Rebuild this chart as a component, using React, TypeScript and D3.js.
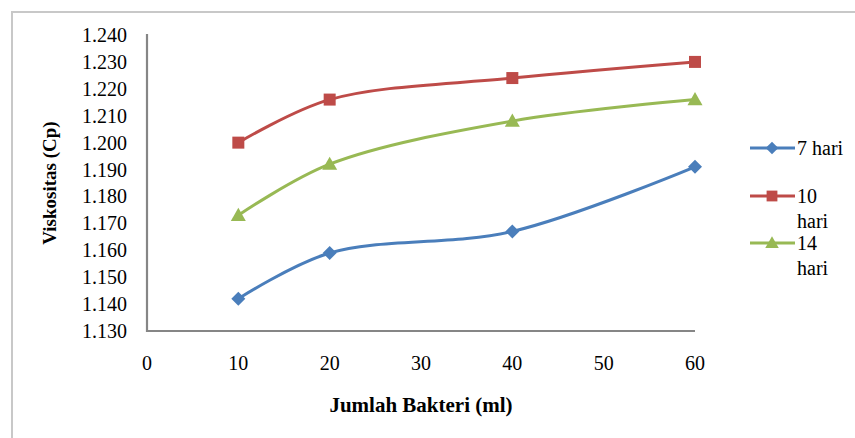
import React from "react";
import * as d3 from "d3";

// Bacteria volume (ml) on the x axis
const volumes = [10, 20, 40, 60];
// Viscosity (Cp) per fermentation time
const hari7 = [1.142, 1.159, 1.167, 1.191];
const hari10 = [1.2, 1.216, 1.224, 1.23];
const hari14 = [1.173, 1.192, 1.208, 1.216];

const xTicks = [0, 10, 20, 30, 40, 50, 60];
const yTicks = [1.13, 1.14, 1.15, 1.16, 1.17, 1.18, 1.19, 1.2, 1.21, 1.22, 1.23, 1.24];

const seriesNames = ["7 hari", "10 hari", "14 hari"];

const W = 855;
const H = 438;
const FONT = "'Liberation Serif', 'Times New Roman', serif";

export default function App() {
  const x = d3.scaleLinear().domain([0, 60]).range([147, 695]);
  const y = d3.scaleLinear().domain([1.13, 1.24]).range([331, 35]);

  const series = [
    { name: seriesNames[0], values: hari7, color: "#4A7EBB", marker: "diamond" },
    { name: seriesNames[1], values: hari10, color: "#BE4B48", marker: "square" },
    { name: seriesNames[2], values: hari14, color: "#98B954", marker: "triangle" },
  ];

  const line = d3
    .line<[number, number]>()
    .x((d) => x(d[0]))
    .y((d) => y(d[1]))
    .curve(d3.curveCatmullRom.alpha(0.5));

  const marker = (kind: string, cx: number, cy: number, color: string, key: string, k = 1) => {
    if (kind === "diamond") {
      const r = 7 * k;
      return (
        <path
          key={key}
          d={`M${cx},${cy - r}L${cx + r},${cy}L${cx},${cy + r}L${cx - r},${cy}Z`}
          fill={color}
        />
      );
    }
    if (kind === "square") {
      const s = 12 * k;
      return <rect key={key} x={cx - s / 2} y={cy - s / 2} width={s} height={s} fill={color} />;
    }
    const r = 7.5 * k;
    return (
      <path
        key={key}
        d={`M${cx},${cy - r}L${cx + r},${cy + r * 0.75}L${cx - r},${cy + r * 0.75}Z`}
        fill={color}
      />
    );
  };

  const legendItems = [
    { y: 148, lines: ["7 hari"], dy: [7] },
    { y: 196, lines: ["10", "hari"], dy: [7, 32] },
    { y: 243, lines: ["14", "hari"], dy: [7, 32] },
  ];

  return (
    <svg
      width={W}
      height={H}
      style={{ position: "absolute", left: 0, top: 0, background: "#fff" }}
    >
      <rect x={0} y={0} width={W} height={H} fill="#fff" />
      {/* chart frame */}
      <rect x={12} y={12} width={W + 20} height={H + 20} fill="none" stroke="#c8c8c8" strokeWidth={2} />

      {/* axes */}
      <line x1={147} y1={34} x2={147} y2={332} stroke="#868686" strokeWidth={2.2} />
      <line x1={146} y1={331} x2={695} y2={331} stroke="#868686" strokeWidth={2.2} />

      {yTicks.map((t) => (
        <text
          key={t}
          x={127}
          y={y(t)}
          dy="0.35em"
          textAnchor="end"
          fontSize={20}
          fontFamily={FONT}
          fill="#000"
        >
          {d3.format(".3f")(t)}
        </text>
      ))}
      {xTicks.map((t) => (
        <text
          key={t}
          x={x(t)}
          y={363}
          dy="0.35em"
          textAnchor="middle"
          fontSize={20}
          fontFamily={FONT}
          fill="#000"
        >
          {t}
        </text>
      ))}

      <text
        x={421}
        y={405}
        dy="0.35em"
        textAnchor="middle"
        fontSize={21}
        fontFamily={FONT}
        fontWeight="bold"
      >
        Jumlah Bakteri (ml)
      </text>
      <text
        transform={`translate(49,183) rotate(-90)`}
        dy="0.35em"
        textAnchor="middle"
        fontSize={19}
        fontFamily={FONT}
        fontWeight="bold"
      >
        Viskositas (Cp)
      </text>

      {series.map((s) => {
        const pts = volumes.map((v, i) => [v, s.values[i]] as [number, number]);
        return (
          <g key={s.name}>
            <path d={line(pts) ?? ""} fill="none" stroke={s.color} strokeWidth={3} />
            {pts.map((p, i) => marker(s.marker, x(p[0]), y(p[1]), s.color, `${s.name}-${i}`))}
          </g>
        );
      })}

      {/* legend */}
      {series.map((s, i) => {
        const it = legendItems[i];
        return (
          <g key={`leg-${s.name}`}>
            <line x1={750} y1={it.y} x2={795} y2={it.y} stroke={s.color} strokeWidth={3} />
            {marker(s.marker, 772, it.y, s.color, `leg-m-${i}`, 0.9)}
            {it.lines.map((l, j) => (
              <text
                key={l + j}
                x={797}
                y={it.y + it.dy[j]}
                fontSize={20}
                fontFamily={FONT}
                fill="#000"
              >
                {l}
              </text>
            ))}
          </g>
        );
      })}
    </svg>
  );
}
